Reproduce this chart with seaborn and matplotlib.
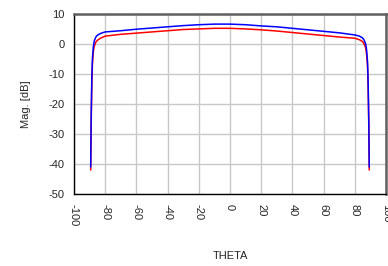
import numpy as np
import pandas as pd
import matplotlib
matplotlib.use("Agg")
import matplotlib.pyplot as plt
import seaborn as sns

theta = [-89.3, -89.0, -88.6, -88.2, -87.6, -87.0, -86.0, -85.0, -83.0, -80.0,
         -70.0, -60.0, -50.0, -40.0, -30.0, -20.0, -10.0, 0.0, 10.0, 20.0,
         30.0, 40.0, 50.0, 60.0, 70.0, 80.0, 83.0, 85.0, 86.0, 87.0,
         87.6, 88.2, 88.6, 89.0, 89.3]
mag_blue = [-41.0, -25.0, -12.0, -5.0, -1.0, 1.0, 2.3, 2.9, 3.5, 4.0,
            4.4, 4.9, 5.3, 5.7, 6.1, 6.4, 6.6, 6.6, 6.4, 6.0,
            5.7, 5.2, 4.7, 4.2, 3.7, 3.0, 2.6, 2.0, 1.3, 0.0,
            -2.0, -6.0, -13.0, -26.0, -41.0]
mag_red = [-42.0, -27.0, -14.0, -7.0, -2.5, -0.8, 0.6, 1.2, 1.9, 2.6,
           3.2, 3.6, 4.0, 4.4, 4.8, 5.0, 5.2, 5.2, 5.0, 4.7,
           4.3, 3.8, 3.3, 2.8, 2.3, 1.9, 1.4, 0.8, 0.0, -1.3,
           -3.5, -7.5, -14.5, -27.0, -42.0]

df = pd.DataFrame({"THETA": theta * 2,
                   "Mag": mag_blue + mag_red,
                   "trace": ["blue"] * len(theta) + ["red"] * len(theta)})

sns.set_style("white")
plt.rcParams['font.family'] = ['Liberation Sans', 'DejaVu Sans']
plt.rcParams['axes.unicode_minus'] = False

fig = plt.figure(figsize=(3.88, 2.66), dpi=100)
ax = fig.add_axes([0.1907, 0.2707, 0.804, 0.677])

sns.lineplot(data=df, x="THETA", y="Mag", hue="trace", hue_order=["red", "blue"],
             palette={"blue": "#0000ff", "red": "#ff0000"}, linewidth=1.1,
             sort=False, estimator=None, legend=False, ax=ax)

ax.set_xlim(-100, 100)
ax.set_ylim(-50, 10)
ax.set_xticks(np.arange(-100, 101, 20))
ax.set_xticks(np.arange(-90, 100, 20), minor=True)
ax.set_yticks(np.arange(-50, 11, 10))
ax.set_yticks(np.arange(-45, 10, 10), minor=True)
ax.grid(True, which="major", color="#c8c8c8", linewidth=1.0)
ax.set_axisbelow(True)

ax.tick_params(axis="both", which="major", direction="out", length=5, width=1,
               color="black", labelsize=8, pad=2)
ax.tick_params(axis="both", which="minor", direction="out", length=3, width=1,
               color="black")
for lab in ax.get_xticklabels():
    lab.set_rotation(270)

for s in ["left", "bottom"]:
    ax.spines[s].set_color("black")
    ax.spines[s].set_linewidth(1.0)
for s in ["top", "right"]:
    ax.spines[s].set_color("#606060")
    ax.spines[s].set_linewidth(1.8)

ax.set_xlabel("THETA", fontsize=8, labelpad=18)
ax.set_ylabel("Mag. [dB]", fontsize=8, labelpad=12)

fig.savefig("out.png", dpi=100)
